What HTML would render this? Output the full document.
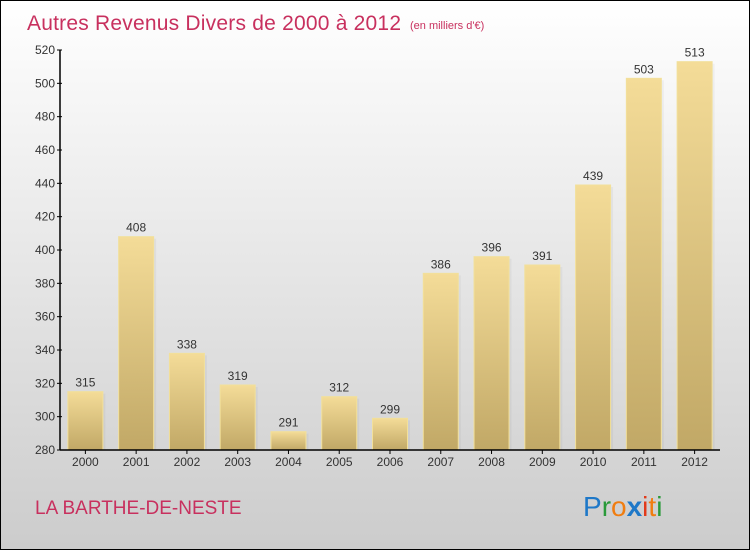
<!DOCTYPE html>
<html><head><meta charset="utf-8"><style>
html,body{margin:0;padding:0}
body{width:750px;height:550px;overflow:hidden;font-family:"Liberation Sans",sans-serif}
</style></head><body>
<svg width="750" height="550" xmlns="http://www.w3.org/2000/svg">
<defs>
<linearGradient id="bg" x1="0" y1="0" x2="0" y2="1"><stop offset="0" stop-color="#ffffff"/><stop offset="1" stop-color="#cccccc"/></linearGradient>
<linearGradient id="bar" x1="0" y1="0" x2="0" y2="1"><stop offset="0" stop-color="#f4dc98"/><stop offset="1" stop-color="#c1a866"/></linearGradient>
</defs>
<rect x="0.5" y="0.5" width="749" height="549" fill="url(#bg)" stroke="#000"/>
<text x="27" y="30" font-size="21" fill="#c8305e" textLength="374">Autres Revenus Divers de 2000 à 2012</text>
<text x="410" y="29" font-size="11" fill="#c8305e">(en milliers d'€)</text>
<g id="plot"></g>
<text x="35" y="514" font-size="19" fill="#c8305e">LA BARTHE-DE-NESTE</text>
<g font-size="28" font-family="Liberation Sans, sans-serif">
<text x="583" y="516"><tspan fill="#1e78c8">P</tspan><tspan fill="#2a9a3a">r</tspan><tspan fill="#f07d10">o</tspan><tspan fill="#1e78c8" font-weight="bold">x</tspan><tspan fill="#e23a1a">i</tspan><tspan fill="#f07d10">t</tspan><tspan fill="#2a9a3a">i</tspan></text>
</g>
</svg>
<script>
const years=["2000","2001","2002","2003","2004","2005","2006","2007","2008","2009","2010","2011","2012"];
const values=[315,408,338,319,291,312,299,386,396,391,439,503,513];
const ticks=[280,300,320,340,360,380,400,420,440,460,480,500,520];
const NS="http://www.w3.org/2000/svg";
const g=document.getElementById('plot');
const x0=60,x1=720,yB=450,yT=50,vMin=280,vMax=520;
const y=v=>yB-(v-vMin)/(vMax-vMin)*(yB-yT);
const bw=(x1-x0)/years.length;
const xc=i=>x0+bw*(i+0.5);
function mk(t,a){const e=document.createElementNS(NS,t);for(const k in a)e.setAttribute(k,a[k]);g.appendChild(e);return e;}
values.forEach((v,i)=>{
 const r=mk('rect',{x:xc(i)-17+2,y:y(v)+2,width:35,height:yB-y(v)-2,fill:'#000',opacity:0.04});
 
 
 const b=mk('rect',{x:xc(i)-17.5,y:y(v),width:35,height:yB-y(v),fill:'url(#bar)',stroke:'#f2e09a','stroke-width':1});
 
 
 const t=mk('text',{x:xc(i),y:y(v)-5,'font-size':12,'text-anchor':'middle',fill:'#333'});
 t.textContent=v;
 
 
 const xt=mk('text',{x:xc(i),y:466,'font-size':12,'text-anchor':'middle',fill:'#333'});
 xt.textContent=years[i];
 
 
 const tk=mk('line',{x1:xc(i),x2:xc(i),y1:yB,y2:yB+4,stroke:'#000'});
 
 
});
ticks.forEach(v=>{
 const t=mk('text',{x:55,y:y(v)+4,'font-size':12,'text-anchor':'end',fill:'#333'});
 t.textContent=v;
 
 
 const l=mk('line',{x1:57,x2:62,y1:y(v),y2:y(v),stroke:'#000'});
 
 
});
const ya=mk('line',{x1:x0,x2:x0,y1:yT,y2:yB,stroke:'#000','stroke-width':1.5});


const xa=mk('line',{x1:x0,x2:x1,y1:yB,y2:yB,stroke:'#000','stroke-width':1.5});


</script>
</body></html>
